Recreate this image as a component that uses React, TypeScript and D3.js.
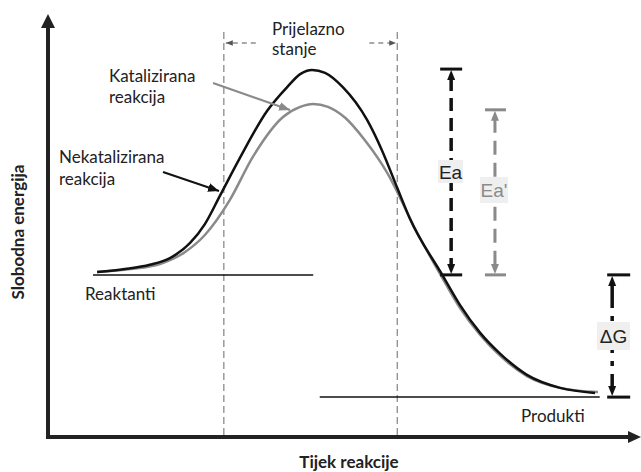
import React from "react";
import * as d3 from "d3";

// Reaction coordinate (0–100) and free energy (0–100, arbitrary units)
const uncatalyzed: [number, number][] = [
  [8.3, 39.3], [13.0, 40.0], [17.2, 41.0], [20.6, 42.6], [24.0, 46.2], [26.5, 50.7],
  [29.1, 57.6], [32.4, 66.4], [37.0, 77.6], [40.4, 83.3], [42.6, 86.4], [44.6, 87.4],
  [46.8, 86.7], [49.8, 83.3], [53.9, 75.5], [56.4, 68.3], [59.0, 59.3], [61.1, 52.1],
  [66.6, 38.6], [69.6, 31.4], [73.0, 24.8], [76.4, 19.8], [80.9, 14.8], [86.5, 11.7],
  [92.4, 10.5],
];
const catalyzed: [number, number][] = [
  [8.3, 39.3], [13.9, 40.0], [18.9, 41.2], [23.1, 44.0], [26.5, 48.1], [30.7, 56.4],
  [34.6, 66.7], [39.7, 76.2], [42.6, 78.6], [44.8, 79.3], [47.3, 78.6], [50.2, 76.0],
  [53.5, 70.7], [57.3, 62.9], [62.3, 48.8], [66.6, 37.9], [69.6, 30.7], [73.0, 24.3],
  [76.4, 19.3], [80.9, 14.5], [86.5, 11.7], [92.9, 10.7],
];
const reactantLevel = 38.6;
const productLevel = 9.5;
const uncatalyzedPeak = 87.6;
const catalyzedPeak = 77.9;
const reactantSpan = [7.6, 44.8];
const productSpan = [45.9, 93.2];
const transitionBounds = [29.7, 59.0];
const barPositions = { ea: 68.1, eaCat: 75.5, dg: 95.3 };
const labels = {
  transition: ["Prijelazno", "stanje"],
  catalyzed: ["Katalizirana", "reakcija"],
  uncatalyzed: ["Nekatalizirana", "reakcija"],
  reactants: "Reaktanti",
  products: "Produkti",
  ea: "Ea",
  eaCat: "Ea'",
  dg: "\u0394G",
  yAxis: "Slobodna energija",
  xAxis: "Tijek reakcije",
};

const W = 641;
const H = 472;
const x = d3.scaleLinear().domain([0, 100]).range([48, 640]);
const y = d3.scaleLinear().domain([0, 100]).range([437, 17]);

const line = d3
  .line<[number, number]>()
  .x((d) => x(d[0]))
  .y((d) => y(d[1]))
  .curve(d3.curveMonotoneX);

const TXT = "#222";
const GRAY = "#8a8a8a";
const FONT = "Lato, 'Open Sans', sans-serif";

function Bar({ xp, top, bottom, color, width, dash, capL, capR, label, lx, ly, lw, lh }: any) {
  const cx = x(xp);
  const yt = y(top);
  const yb = y(bottom);
  return (
    <g>
      <line x1={cx - capL} x2={cx + capR} y1={yt} y2={yt} stroke={color} strokeWidth={3} />
      <line x1={cx - capL} x2={cx + capR} y1={yb} y2={yb} stroke={color} strokeWidth={3} />
      <line x1={cx} x2={cx} y1={yt + 9} y2={yb - 9} stroke={color} strokeWidth={width} strokeDasharray={dash} />
      <path d={`M${cx},${yt + 1} L${cx - 4},${yt + 11} L${cx + 4},${yt + 11} Z`} fill={color} />
      <path d={`M${cx},${yb - 1} L${cx - 4},${yb - 11} L${cx + 4},${yb - 11} Z`} fill={color} />
      <rect x={lx} y={ly} width={lw} height={lh} fill="#efefef" />
      <text
        x={lx + lw / 2}
        y={ly + lh / 2 + 7}
        textAnchor="middle"
        fontFamily="'Liberation Sans', Arial, sans-serif"
        fontSize={19}
        fill={color === "#111" ? TXT : color}
      >
        {label}
      </text>
    </g>
  );
}

export default function App() {
  const tx0 = x(transitionBounds[0]);
  const tx1 = x(transitionBounds[1]);
  return (
    <svg
      width={W}
      height={H}
      style={{ position: "absolute", left: 0, top: 0, background: "#fff" }}
    >
      <defs>
        <marker id="smallArrow" viewBox="0 0 10 10" refX="10" refY="5" markerWidth="7" markerHeight="7" markerUnits="userSpaceOnUse" orient="auto">
          <path d="M0,1 L10,5 L0,9 Z" fill="#555" />
        </marker>
        <marker id="grayArrow" viewBox="0 0 10 10" refX="10" refY="5" markerWidth="11" markerHeight="11" markerUnits="userSpaceOnUse" orient="auto">
          <path d="M0,1 L10,5 L0,9 Z" fill={GRAY} />
        </marker>
        <marker id="blackArrow" viewBox="0 0 10 10" refX="10" refY="5" markerWidth="11" markerHeight="11" markerUnits="userSpaceOnUse" orient="auto">
          <path d="M0,1 L10,5 L0,9 Z" fill="#111" />
        </marker>
      </defs>

      {/* transition state dashed bounds */}
      {[tx0, tx1].map((vx, i) => (
        <line key={i} x1={vx} x2={vx} y1={32} y2={435} stroke="#8c8c8c" strokeWidth={1.3} strokeDasharray="7 4" />
      ))}
      <line x1={tx0 + 32} x2={tx0 + 2} y1={43} y2={43} stroke="#555" strokeWidth={1.2} strokeDasharray="5 4" markerEnd="url(#smallArrow)" />
      <line x1={tx1 - 28} x2={tx1 - 1} y1={43} y2={43} stroke="#555" strokeWidth={1.2} strokeDasharray="5 4" markerEnd="url(#smallArrow)" />

      {/* energy levels */}
      <line x1={x(reactantSpan[0])} x2={x(reactantSpan[1])} y1={y(reactantLevel)} y2={y(reactantLevel)} stroke="#111" strokeWidth={1.5} />
      <line x1={x(productSpan[0])} x2={x(productSpan[1])} y1={y(productLevel)} y2={y(productLevel)} stroke="#111" strokeWidth={1.5} />

      {/* curves */}
      <path d={line(catalyzed) || ""} fill="none" stroke={GRAY} strokeWidth={2.5} />
      <path d={line(uncatalyzed) || ""} fill="none" stroke="#111" strokeWidth={2.5} />

      {/* Ea bars */}
      <Bar xp={barPositions.ea} top={uncatalyzedPeak} bottom={reactantLevel} color="#111" width={3.5} dash="13 7" capL={11} capR={11} label={labels.ea} lx={438} ly={160} lw={25} lh={23} />
      <Bar xp={barPositions.eaCat} top={catalyzedPeak} bottom={reactantLevel} color={GRAY} width={3} dash="14 8" capL={10} capR={11} label={labels.eaCat} lx={480} ly={177} lw={28} lh={26} />
      <Bar xp={barPositions.dg} top={reactantLevel} bottom={productLevel} color="#111" width={3.5} dash="24 8 5 8" capL={5} capR={18} label={labels.dg} lx={597} ly={322} lw={33} lh={28} />

      {/* pointer arrows */}
      <line x1={213} y1={83} x2={290} y2={110} stroke={GRAY} strokeWidth={2} markerEnd="url(#grayArrow)" />
      <line x1={163} y1={172} x2={219} y2={191} stroke="#111" strokeWidth={2} markerEnd="url(#blackArrow)" />

      {/* axes */}
      <line x1={46} x2={631} y1={437} y2={437} stroke="#222" strokeWidth={4} />
      <path d="M641,437 L628,431 L628,443 Z" fill="#222" />
      <line x1={48} x2={48} y1={439} y2={26} stroke="#222" strokeWidth={4} />
      <path d="M48,14 L41,28 L55,28 Z" fill="#222" />

      {/* texts */}
      <g fontFamily={FONT} fontSize={17} fill={TXT}>
        <text x={272} y={35}>{labels.transition[0]}</text>
        <text x={272} y={55}>{labels.transition[1]}</text>
        <text x={109} y={82}>{labels.catalyzed[0]}</text>
        <text x={109} y={103}>{labels.catalyzed[1]}</text>
        <text x={59} y={163}>{labels.uncatalyzed[0]}</text>
        <text x={59} y={185}>{labels.uncatalyzed[1]}</text>
        <text x={85} y={300}>{labels.reactants}</text>
        <text x={521} y={422}>{labels.products}</text>
      </g>
      <text x={349} y={468} textAnchor="middle" fontFamily={FONT} fontWeight="bold" fontSize={17} fill={TXT}>
        {labels.xAxis}
      </text>
      <text transform="translate(24,232) rotate(-90)" textAnchor="middle" fontFamily={FONT} fontWeight="bold" fontSize={17} fill={TXT}>
        {labels.yAxis}
      </text>
    </svg>
  );
}
